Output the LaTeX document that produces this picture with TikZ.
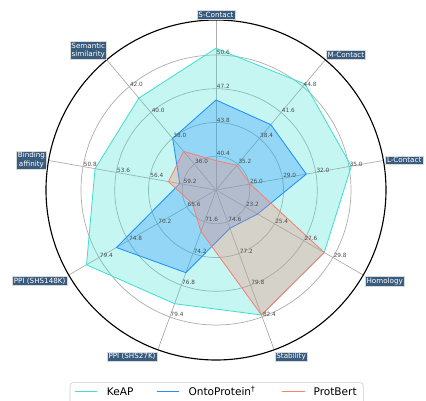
\documentclass[tikz,border=0pt]{standalone}
\usepackage{fontspec}
\setmainfont{DejaVu Sans}
\definecolor{keap}{HTML}{40E0D0}
\definecolor{onto}{HTML}{1E90FF}
\definecolor{pbert}{HTML}{FA8072}
\definecolor{axbox}{HTML}{385B7E}
\begin{document}
\begin{tikzpicture}[scale=0.025,
  grid/.style={draw=black!32, line width=0.5pt},
  tick/.style={font=\fontsize{4.1}{5}\selectfont, text=black!70, inner sep=0.4pt, anchor=base west, yshift=0.3pt},
  axlabel/.style={fill=axbox, draw=black!15, line width=0.3pt, text=white, inner sep=1pt, align=center, font=\fontsize{5.1}{6}\selectfont},
  series/.style={draw=#1, fill=#1, fill opacity=0.3, line width=0.6pt},
  legend/.style={anchor=base west, inner sep=0pt, font=\fontsize{7.5}{9}\selectfont}]
\clip (-216,-210) rectangle (210,190);

% grid
\foreach \r in {1,...,4} \draw[grid] (0,0) circle (33.75*\r);
\foreach \a in {90,50,...,-230} \draw[grid] (0,0) -- (\a:170);

% KeAP, OntoProtein, ProtBert
\draw[series=keap] (90:141.7) -- (50:138.4) -- (10:137.4) -- (-30:125) -- (-70:133)
  -- (-110:121) -- (-150:149.5) -- (170:122.8) -- (130:120) -- cycle;
\draw[series=onto] (90:90) -- (50:85.3) -- (10:91.7) -- (-30:48) -- (-70:40.7)
  -- (-110:88) -- (-150:115) -- (170:36.8) -- (130:67.4) -- cycle;
\draw[series=pbert] (90:29.4) -- (50:32.3) -- (10:34.7) -- (-30:125) -- (-70:133)
  -- (-110:44) -- (-150:27.2) -- (170:48.3) -- (130:50.4) -- cycle;

\draw[line width=0.8pt] (0,0) circle (170);

% ring values
\foreach \a/\va/\vb/\vc/\vd in {90/40.4/43.8/47.2/50.6, 50/35.2/38.4/41.6/44.8,
    10/26.0/29.0/32.0/35.0, -30/23.2/25.4/27.6/29.8, -70/74.6/77.2/79.8/82.4,
    -110/71.6/74.2/76.8/79.4, -150/65.6/70.2/74.8/79.4, 170/59.2/56.4/53.6/50.8,
    130/36.0/38.0/40.0/42.0}{
  \node[tick] at (\a:33.75) {\va};  \node[tick] at (\a:67.5) {\vb};
  \node[tick] at (\a:101.25) {\vc}; \node[tick] at (\a:135) {\vd};
}

% axis names
\node[axlabel, anchor=south] (scont) at (90:171) {S-Contact};
\node[axlabel, anchor=south west] (mcont) at (50:171) {M-Contact};
\node[axlabel, anchor=west] (lcont) at (10:172) {L-Contact};
\node[axlabel, anchor=north west] (homol) at (-30:172) {Homology};
\node[axlabel, anchor=north west] (stab) at (-70:172) {Stability};
\node[axlabel, anchor=north east] (ppis) at (-110:172) {PPI (SHS27K)};
\node[axlabel, anchor=north east] (ppil) at (-150:172) {PPI (SHS148K)};
\node[axlabel, anchor=east] (bind) at (170:172) {Binding\\affinity};
\node[axlabel, anchor=south east] (sem) at (130:170) {Semantic\\similarity};

% legend
\draw[black!20, fill=white, rounded corners=2pt] (-146,-192.7) rectangle (147.3,-225);
\draw[keap, line width=0.7pt] (-141,-201.7) -- (-118.7,-201.7);
\node[legend] (lkeap) at (-109.3,-205.5) {KeAP};
\draw[onto, line width=0.7pt] (-59.3,-201.7) -- (-37,-201.7);
\node[legend] (lonto) at (-27.7,-205.5) {OntoProtein\textsuperscript{\textdagger}};
\draw[pbert, line width=0.7pt] (65.7,-201.7) -- (89,-201.7);
\node[legend] (lpbert) at (97.3,-205.5) {ProtBert};
\end{tikzpicture}
\end{document}
